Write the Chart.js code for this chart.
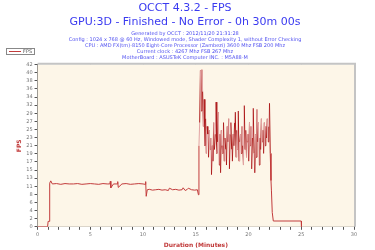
<!DOCTYPE html>
<html>
<head>
<meta charset="utf-8">
<script src="https://cdn.jsdelivr.net/npm/chart.js@4/dist/chart.umd.min.js"></script>
<style>
  html, body { margin: 0; padding: 0; background: #ffffff; }
  #wrap { width: 375px; height: 250px; position: relative; }
</style>
</head>
<body>
<div id="wrap"><canvas id="c" width="375" height="250"></canvas></div>
<script>
// ---- Data ----
const seriesName = 'FPS';
const titleLines = ['OCCT 4.3.2 - FPS', 'GPU:3D - Finished - No Error - 0h 30m 00s'];
const infoLines = [
  'Generated by OCCT : 2012/11/20 21:31:28',
  'Config : 1024 x 768 @ 60 Hz, Windowed mode, Shader Complexity 1, without Error Checking',
  'CPU : AMD FX(tm)-8150 Eight-Core Processor (Zambezi) 3600 Mhz FSB 200 Mhz',
  'Current clock : 4267 Mhz FSB 267 Mhz',
  'MotherBoard : ASUSTeK Computer INC. : M5A88-M'
];
const xAxisTitle = 'Duration (Minutes)';
const yAxisTitle = 'FPS';
const xMajorTicks = [0, 5, 10, 15, 20, 25, 30];
const yMax = 42;
const yStep = 2.1;

// time in minutes
const minutes = [
  0, 0.95, 1.0, 1.1, 1.15, 1.25, 1.4, 1.8, 2.2, 2.6,
  3.0, 3.4, 3.8, 4.2, 4.6, 5.0, 5.4, 5.8, 6.2, 6.6,
  6.85, 6.9, 6.95, 7.2, 7.55, 7.6, 7.65, 8.0, 8.4, 8.8,
  9.2, 9.6, 10.0, 10.2, 10.25, 10.3, 10.4, 10.6, 10.9, 11.2,
  11.5, 11.8, 12.1, 12.4, 12.5, 12.8, 13.1, 13.4, 13.7, 13.8,
  14.0, 14.2, 14.3, 14.6, 14.9, 15.15, 15.25,
  15.30, 15.37, 15.44, 15.51, 15.58, 15.65, 15.72, 15.79, 15.86, 15.93,
  16.00, 16.07, 16.14, 16.21, 16.28, 16.35, 16.42, 16.49, 16.56, 16.63,
  16.70, 16.77, 16.85, 16.92, 16.99, 17.07, 17.14, 17.21, 17.28, 17.35,
  17.42, 17.49, 17.56, 17.63, 17.70, 17.77, 17.84, 17.91, 17.98, 18.05,
  18.12, 18.19, 18.26, 18.33, 18.40, 18.47, 18.54, 18.61, 18.68, 18.75,
  18.82, 18.89, 18.96, 19.03, 19.10, 19.17, 19.24, 19.31, 19.38, 19.45,
  19.52, 19.60, 19.67, 19.74, 19.81, 19.88, 19.95, 20.02, 20.09, 20.16,
  20.23, 20.30, 20.37, 20.45, 20.52, 20.59, 20.66, 20.73, 20.80, 20.87,
  20.94, 21.01, 21.08, 21.15, 21.22, 21.29, 21.36, 21.43, 21.50, 21.57,
  21.64, 21.71, 21.78, 21.85, 21.92, 21.99, 22.06, 22.13, 22.17, 22.25,
  22.35, 25.0, 25.02
];
const fps = [
  0, 0, 1.4, 1.4, 11.3, 11.9, 11.1, 11.2, 11.0, 11.2,
  11.1, 11.1, 11.2, 11.0, 11.1, 11.2, 11.1, 11.0, 11.2, 11.1,
  11.1, 11.8, 10.1, 11.1, 11.1, 11.7, 10.2, 11.1, 11.2, 11.0,
  11.1, 11.2, 11.1, 11.0, 11.7, 7.9, 9.6, 9.7, 9.5, 9.6,
  9.7, 9.5, 9.6, 9.4, 10.0, 9.6, 9.7, 9.5, 9.6, 10.1,
  9.4, 9.7, 10.0, 9.6, 9.5, 9.6, 8.3,
  21, 27, 40.5, 30, 40.7, 35, 26, 33, 21, 28,
  19, 26, 24, 18, 25, 20, 23, 13.5, 21, 17,
  27, 20, 24, 32.3, 19, 22, 29.7, 16, 24, 14,
  25, 21, 19, 27, 17, 23, 20, 16, 26, 22,
  28, 15, 24, 27, 20, 17, 24, 21, 27, 29.7,
  18, 25, 20, 30, 17, 22, 24, 19, 26, 21,
  16, 31.4, 20, 25, 18, 22, 24, 17, 27, 21,
  26, 15, 23, 30.7, 19, 14, 24, 18, 30.4, 22,
  27, 16, 23, 20, 28, 22, 25, 19, 27, 21,
  26, 23, 28, 22, 26, 32, 19, 12, 9.5, 3.7,
  1.5, 1.5, 0
];

const points = minutes.map((m, i) => ({ x: m, y: fps[i] }));

const FONT = "'DejaVu Sans', Verdana, sans-serif";
const RED = '#b52a2a';
const DARK_RED = '#ad1a1a';
const PINK = '#e3a4a4';
const MID_RED = '#c23c3c';
const AXIS_RED = '#c03838';

// plot background + frame + legend box
const decor = {
  id: 'decor',
  beforeDatasetsDraw(chart) {
    const { ctx, chartArea: a } = chart;
    ctx.save();
    ctx.fillStyle = '#fdf6e8';
    ctx.fillRect(a.left, a.top, a.right - a.left, a.bottom - a.top);
    ctx.restore();
  },
  afterDraw(chart) {
    const { ctx, chartArea: a } = chart;
    ctx.save();
    ctx.strokeStyle = '#c4c4c4';
    ctx.lineWidth = 2;
    ctx.beginPath();
    ctx.moveTo(a.left, a.top - 1);
    ctx.lineTo(a.right + 1, a.top - 1);
    ctx.lineTo(a.right + 1, a.bottom);
    ctx.stroke();
    // legend box
    ctx.lineWidth = 1;
    ctx.strokeStyle = '#888888';
    ctx.fillStyle = '#ffffff';
    ctx.fillRect(6.5, 48.5, 28, 6);
    ctx.strokeRect(6.5, 48.5, 28, 6);
    ctx.strokeStyle = MID_RED;
    ctx.beginPath();
    ctx.moveTo(9, 51.5);
    ctx.lineTo(21, 51.5);
    ctx.stroke();
    ctx.fillStyle = '#555555';
    ctx.font = '5px ' + FONT;
    ctx.textBaseline = 'middle';
    ctx.fillText(seriesName, 23, 51.7);
    ctx.restore();
  }
};

new Chart(document.getElementById('c'), {
  type: 'line',
  data: {
    datasets: [{
      label: seriesName,
      data: points,
      borderColor: RED,
      borderWidth: 1,
      pointRadius: 0,
      tension: 0,
      fill: false,
      segment: {
        borderColor: (c) => (c.p0.parsed.y > 12.5 && c.p1.parsed.y > 12.5)
          ? (c.p0DataIndex % 2 ? PINK : DARK_RED)
          : MID_RED
      }
    }]
  },
  options: {
    responsive: false,
    animation: false,
    devicePixelRatio: 1,
    layout: { padding: { left: 16, right: 21, top: 0, bottom: 1 } },
    plugins: {
      legend: { display: false },
      tooltip: { enabled: false },
      title: {
        display: true,
        text: titleLines,
        color: '#3a3af0',
        font: { family: FONT, size: 11, weight: 'normal', lineHeight: 1.28 },
        padding: { top: 1, bottom: 0 }
      },
      subtitle: {
        display: true,
        text: infoLines,
        color: '#5050f0',
        font: { family: FONT, size: 5, weight: 'normal', lineHeight: 1.22 },
        padding: { top: 1, bottom: 4 }
      }
    },
    scales: {
      x: {
        type: 'linear',
        min: 0,
        max: 30,
        title: {
          display: true,
          text: xAxisTitle,
          color: AXIS_RED,
          font: { family: FONT, size: 6, weight: 'bold' },
          padding: { top: 2, bottom: 0 }
        },
        ticks: {
          stepSize: 1,
          autoSkip: false,
          maxRotation: 0,
          color: '#777777',
          font: { family: FONT, size: 5 },
          padding: 2,
          callback: (v) => (xMajorTicks.includes(v) ? String(v) : '')
        },
        grid: {
          color: (c) => (c.tick && xMajorTicks.includes(c.tick.value) && c.tick.value > 0 && c.tick.value < 30) ? '#b8b8b8' : 'rgba(0,0,0,0)',
          tickColor: '#555555',
          tickLength: 3,
          lineWidth: 1
        },
        border: { display: true, color: '#555555', width: 1, dash: [1, 2] }
      },
      y: {
        min: 0,
        max: yMax,
        title: {
          display: true,
          text: yAxisTitle,
          color: AXIS_RED,
          font: { family: FONT, size: 6, weight: 'bold' },
          padding: { top: 0, bottom: 1 }
        },
        ticks: {
          stepSize: yStep,
          autoSkip: false,
          color: '#777777',
          font: { family: FONT, size: 5 },
          padding: 2,
          callback: (v) => String(Math.round(v))
        },
        grid: {
          drawOnChartArea: false,
          tickColor: '#555555',
          tickLength: 3
        },
        border: { display: true, color: '#555555', width: 1 }
      }
    }
  },
  plugins: [decor]
});
</script>
</body>
</html>
